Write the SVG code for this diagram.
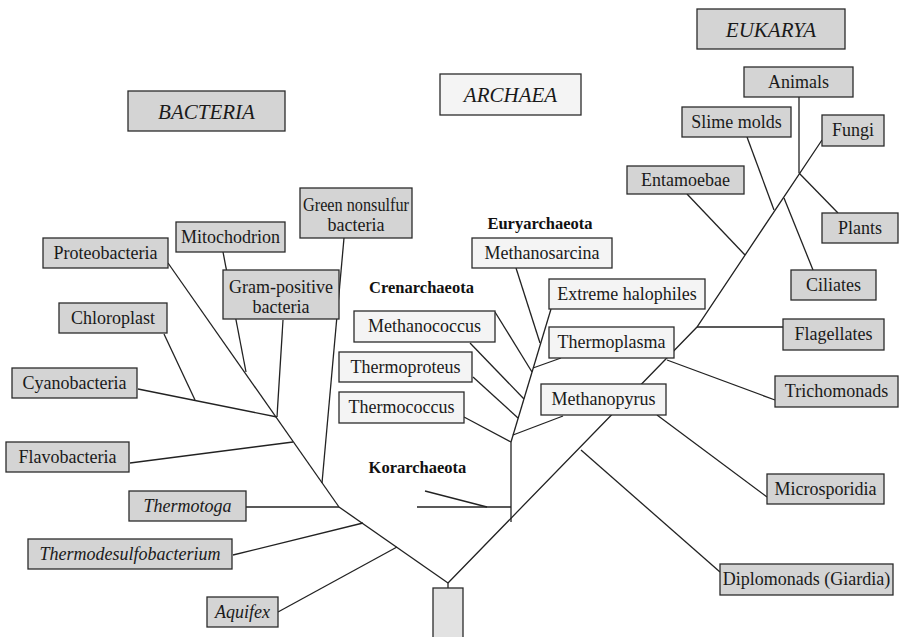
<svg xmlns="http://www.w3.org/2000/svg" width="899" height="637" viewBox="0 0 899 637">
<style>
  .bg { fill: #ffffff; }
  .b { fill: #d4d4d4; stroke: #2b2b2b; stroke-width: 1.3; }
  .a { fill: #f4f4f4; stroke: #2b2b2b; stroke-width: 1.3; }
  .r { fill: #e2e2e2; stroke: #2b2b2b; stroke-width: 1.3; }
  .t { font-family: "Liberation Serif", "Times New Roman", serif; font-size: 18px; fill: #1a1a1a; text-anchor: middle; }
  .i { font-style: italic; }
  .h { font-family: "Liberation Serif", "Times New Roman", serif; font-size: 21px; font-style: italic; fill: #1a1a1a; text-anchor: middle; }
  .g { font-family: "Liberation Serif", "Times New Roman", serif; font-size: 16.5px; font-weight: bold; fill: #111; text-anchor: middle; }
  .c line, .c polyline { stroke: #222; stroke-width: 1.3; fill: none; }
</style>
<rect class="bg" x="0" y="0" width="899" height="637"/>

<g id="connectors" class="c">
  <!-- Bacteria -->
  <line x1="168" y1="263" x2="339" y2="507"/>
  <line x1="339" y1="507" x2="448" y2="583"/>
  <line x1="448" y1="583" x2="448" y2="589"/>
  <line x1="246" y1="507" x2="339" y2="507"/>
  <line x1="233" y1="555" x2="363" y2="523"/>
  <line x1="278" y1="612" x2="397" y2="547"/>
  <line x1="344" y1="238" x2="322" y2="483"/>
  <line x1="223" y1="252" x2="246" y2="372"/>
  <line x1="283" y1="320" x2="277" y2="417"/>
  <line x1="164" y1="334" x2="195" y2="400"/>
  <line x1="138" y1="389" x2="277" y2="417"/>
  <line x1="130" y1="463" x2="293" y2="442"/>
  <!-- Main line to Archaea / Eukarya -->
  <polyline points="448,583 697,327 822,140"/>
  <!-- Archaea -->
  <line x1="511" y1="522" x2="511" y2="442"/>
  <line x1="511" y1="442" x2="551" y2="309"/>
  <line x1="516" y1="268" x2="540" y2="343"/>
  <line x1="561" y1="358" x2="533" y2="368"/>
  <line x1="495" y1="312" x2="532" y2="372"/>
  <line x1="470" y1="343" x2="524" y2="399"/>
  <line x1="473" y1="377" x2="518" y2="418"/>
  <line x1="464" y1="417" x2="511" y2="442"/>
  <line x1="563" y1="416" x2="513" y2="435"/>
  <line x1="417" y1="507" x2="511" y2="507"/>
  <line x1="425" y1="491" x2="487" y2="507"/>
  <!-- Eukarya -->
  <line x1="799" y1="97" x2="799" y2="173"/>
  <line x1="799" y1="173" x2="838" y2="213"/>
  <line x1="747" y1="137" x2="774" y2="210"/>
  <line x1="784" y1="198" x2="813" y2="270"/>
  <line x1="687" y1="194" x2="745" y2="255"/>
  <line x1="697" y1="327" x2="783" y2="327"/>
  <line x1="667" y1="360" x2="775" y2="400"/>
  <line x1="657" y1="415" x2="767" y2="497"/>
  <line x1="581" y1="450" x2="720" y2="572"/>
</g>

<!-- Bacteria -->
<g id="bacteria-title"><rect class="b" x="128" y="91" width="157" height="40"/><text class="h" x="206.5" y="119">BACTERIA</text></g>
<g id="proteobacteria"><rect class="b" x="43" y="238" width="125" height="30"/><text class="t" x="105.5" y="259">Proteobacteria</text></g>
<g id="mitochodrion"><rect class="b" x="176" y="222" width="109" height="30"/><text class="t" x="230.5" y="243">Mitochodrion</text></g>
<g id="green-nonsulfur"><rect class="b" x="300" y="188" width="112" height="50"/><text class="t" x="356" y="211" textLength="106" lengthAdjust="spacingAndGlyphs">Green nonsulfur</text><text class="t" x="356" y="231">bacteria</text></g>
<g id="gram-positive"><rect class="b" x="223" y="270" width="116" height="49"/><text class="t" x="281" y="293">Gram-positive</text><text class="t" x="281" y="313">bacteria</text></g>
<g id="chloroplast"><rect class="b" x="59" y="303" width="108" height="30"/><text class="t" x="113" y="324">Chloroplast</text></g>
<g id="cyanobacteria"><rect class="b" x="12" y="368" width="125" height="30"/><text class="t" x="74.5" y="389">Cyanobacteria</text></g>
<g id="flavobacteria"><rect class="b" x="6" y="442" width="123" height="30"/><text class="t" x="67.5" y="463">Flavobacteria</text></g>
<g id="thermotoga"><rect class="b" x="129" y="491" width="117" height="30"/><text class="t i" x="187.5" y="512">Thermotoga</text></g>
<g id="thermodesulfobacterium"><rect class="b" x="28" y="539" width="204" height="30"/><text class="t i" x="130" y="560">Thermodesulfobacterium</text></g>
<g id="aquifex"><rect class="b" x="207" y="597" width="71" height="30"/><text class="t i" x="242.5" y="618">Aquifex</text></g>
<g id="root"><rect class="r" x="433" y="588" width="30" height="55"/></g>

<!-- Archaea -->
<g id="archaea-title"><rect class="a" x="440" y="74" width="141" height="41"/><text class="h" x="510.5" y="102">ARCHAEA</text></g>
<g id="euryarchaeota"><text class="g" x="540" y="229">Euryarchaeota</text></g>
<g id="crenarchaeota"><text class="g" x="421.5" y="293">Crenarchaeota</text></g>
<g id="korarchaeota"><text class="g" x="417.5" y="473">Korarchaeota</text></g>
<g id="methanosarcina"><rect class="a" x="472" y="238" width="140" height="30"/><text class="t" x="542" y="259">Methanosarcina</text></g>
<g id="extreme-halophiles"><rect class="a" x="549" y="279" width="156" height="30"/><text class="t" x="627" y="300">Extreme halophiles</text></g>
<g id="methanococcus"><rect class="a" x="354" y="311" width="141" height="31"/><text class="t" x="424.5" y="332">Methanococcus</text></g>
<g id="thermoplasma"><rect class="a" x="549" y="327" width="125" height="31"/><text class="t" x="611.5" y="348">Thermoplasma</text></g>
<g id="thermoproteus"><rect class="a" x="339" y="352" width="133" height="30"/><text class="t" x="405.5" y="373">Thermoproteus</text></g>
<g id="methanopyrus"><rect class="a" x="541" y="384" width="125" height="31"/><text class="t" x="603.5" y="405">Methanopyrus</text></g>
<g id="thermococcus"><rect class="a" x="339" y="392" width="125" height="31"/><text class="t" x="401.5" y="413">Thermococcus</text></g>

<!-- Eukarya -->
<g id="eukarya-title"><rect class="b" x="697" y="9" width="148" height="40"/><text class="h" x="771" y="37">EUKARYA</text></g>
<g id="animals"><rect class="b" x="744" y="67" width="109" height="30"/><text class="t" x="798.5" y="88">Animals</text></g>
<g id="slime-molds"><rect class="b" x="682" y="107" width="109" height="30"/><text class="t" x="736.5" y="128">Slime molds</text></g>
<g id="fungi"><rect class="b" x="822" y="115" width="62" height="31"/><text class="t" x="853" y="136">Fungi</text></g>
<g id="entamoebae"><rect class="b" x="627" y="166" width="117" height="28"/><text class="t" x="685.5" y="186">Entamoebae</text></g>
<g id="plants"><rect class="b" x="822" y="213" width="76" height="30"/><text class="t" x="860" y="234">Plants</text></g>
<g id="ciliates"><rect class="b" x="791" y="270" width="85" height="30"/><text class="t" x="833.5" y="291">Ciliates</text></g>
<g id="flagellates"><rect class="b" x="783" y="319" width="101" height="31"/><text class="t" x="833.5" y="340">Flagellates</text></g>
<g id="trichomonads"><rect class="b" x="775" y="376" width="123" height="31"/><text class="t" x="836.5" y="397">Trichomonads</text></g>
<g id="microsporidia"><rect class="b" x="767" y="474" width="117" height="30"/><text class="t" x="825.5" y="495">Microsporidia</text></g>
<g id="diplomonads"><rect class="b" x="720" y="564" width="173" height="31"/><text class="t" x="806.5" y="585">Diplomonads (Giardia)</text></g>
</svg>
